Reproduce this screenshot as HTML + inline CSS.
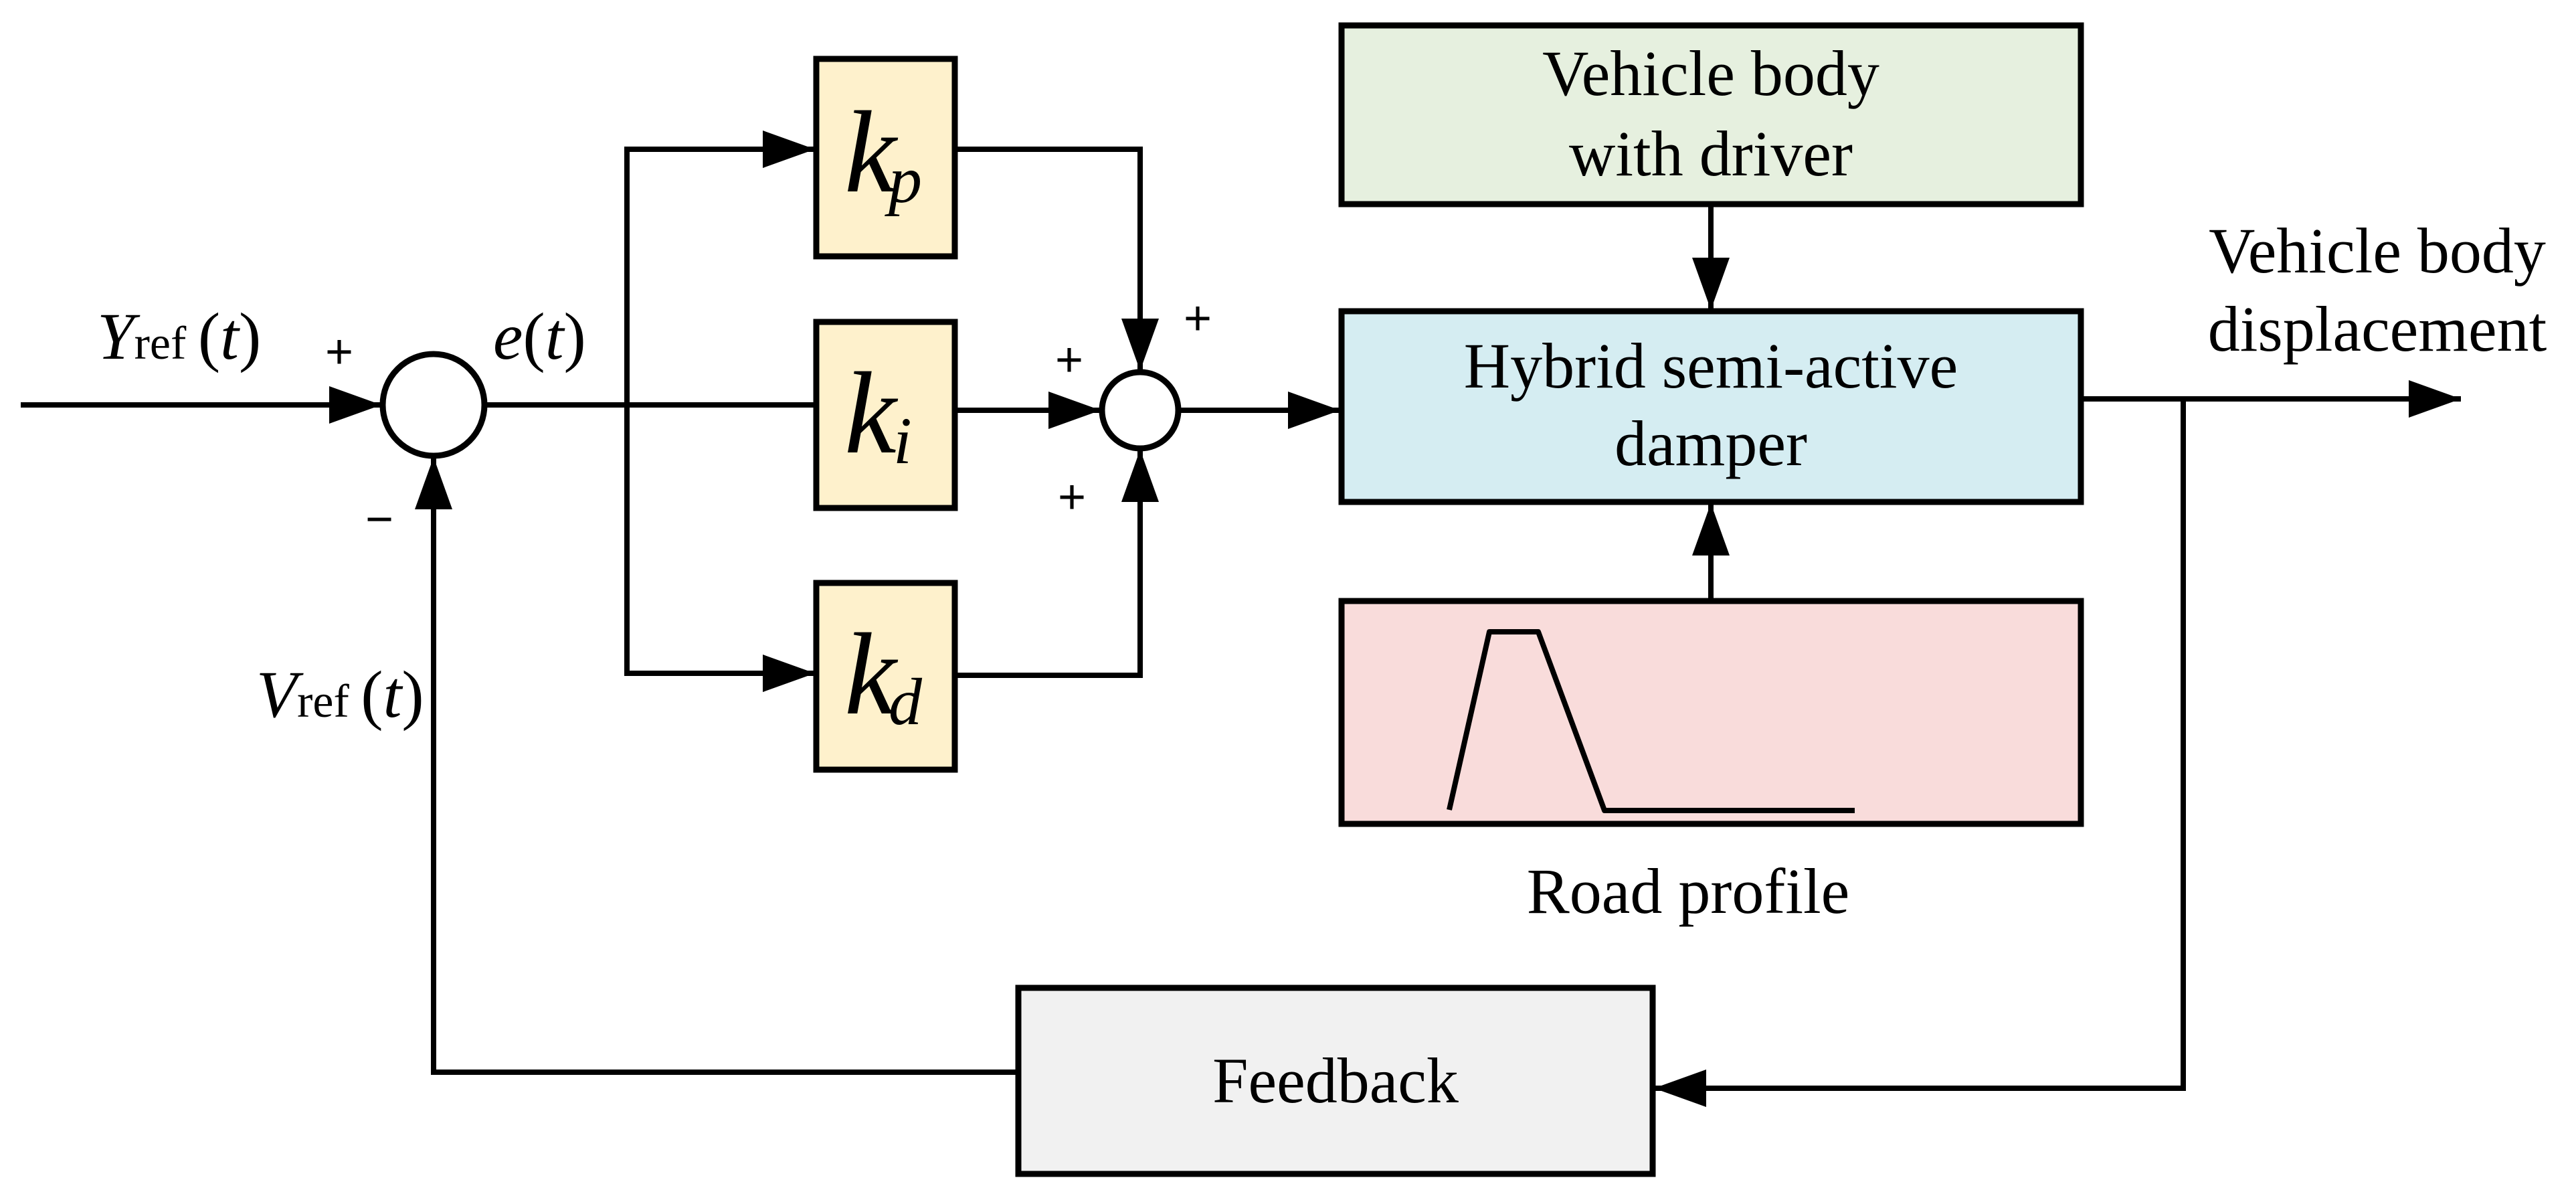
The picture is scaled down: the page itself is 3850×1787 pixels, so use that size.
<!DOCTYPE html>
<html><head><meta charset="utf-8"><style>html,body{margin:0;padding:0;background:#fff}svg{display:block}svg text{font-family:"Liberation Serif","Times New Roman",serif}svg text.s{font-family:"Liberation Sans",sans-serif}</style></head>
<body>
<svg width="3850" height="1787" viewBox="0 0 3850 1787" xmlns="http://www.w3.org/2000/svg">
<defs>
<marker id="a" markerUnits="userSpaceOnUse" markerWidth="80" markerHeight="60" refX="78" refY="28" orient="auto"><path d="M0,0 L78,28 L0,56 Z" fill="#000"/></marker>
</defs>
<g stroke="#000" stroke-width="8" fill="none">
<rect x="1220" y="88" width="207" height="295" fill="#FEF1CC" stroke-width="9"/>
<rect x="1220" y="481" width="207" height="278" fill="#FEF1CC" stroke-width="9"/>
<rect x="1220" y="871" width="207" height="279" fill="#FEF1CC" stroke-width="9"/>
<rect x="2005" y="38" width="1105" height="267" fill="#E6F0DF" stroke-width="9"/>
<rect x="2005" y="465" width="1105" height="285" fill="#D5EDF2" stroke-width="9"/>
<rect x="2005" y="898" width="1105" height="333" fill="#F9DCDB" stroke-width="9"/>
<rect x="1522" y="1476" width="948" height="278" fill="#F1F1F1" stroke-width="9"/>
<circle cx="648" cy="605" r="76" fill="#fff" stroke-width="9"/>
<circle cx="1704" cy="613" r="57" fill="#fff" stroke-width="9"/>
<line x1="31" y1="605" x2="570" y2="605" marker-end="url(#a)"/>
<line x1="724" y1="605" x2="1220" y2="605"/>
<polyline points="1218,223 937,223 937,1006 1218,1006" />
<line x1="937" y1="223" x2="1218" y2="223" marker-end="url(#a)"/>
<line x1="937" y1="1006" x2="1218" y2="1006" marker-end="url(#a)"/>
<polyline points="1427,223 1704,223 1704,554" marker-end="url(#a)"/>
<line x1="1427" y1="613" x2="1645" y2="613" marker-end="url(#a)"/>
<polyline points="1427,1009 1704,1009 1704,672" marker-end="url(#a)"/>
<line x1="1761" y1="613" x2="2003" y2="613" marker-end="url(#a)"/>
<line x1="2557" y1="305" x2="2557" y2="463" marker-end="url(#a)"/>
<line x1="2557" y1="898" x2="2557" y2="752" marker-end="url(#a)"/>
<line x1="3110" y1="596" x2="3678" y2="596" marker-end="url(#a)"/>
<polyline points="3263,596 3263,1626 2472,1626" marker-end="url(#a)"/>
<polyline points="1522,1602 648,1602 648,683" marker-end="url(#a)"/>
<polyline points="2166,1210 2226,944 2299,944 2398,1211 2772,1211" stroke-linejoin="round"/>
</g>
<g fill="#000">
<text x="1262" y="286" font-size="175" font-style="italic">k</text><text x="1328" y="302" font-size="100" font-style="italic">p</text>
<text x="1262" y="676" font-size="175" font-style="italic">k</text><text x="1335" y="692" font-size="100" font-style="italic">i</text>
<text x="1262" y="1066" font-size="175" font-style="italic">k</text><text x="1328" y="1082" font-size="100" font-style="italic">d</text>
<text x="145" y="536" font-size="100"><tspan font-style="italic">Y</tspan><tspan font-size="70">ref </tspan>(<tspan font-style="italic">t</tspan>)</text>
<text x="383" y="1071" font-size="100"><tspan font-style="italic">V</tspan><tspan font-size="70">ref </tspan>(<tspan font-style="italic">t</tspan>)</text>
<text x="737" y="536" font-size="100"><tspan font-style="italic">e</tspan>(<tspan font-style="italic">t</tspan>)</text>
<g font-size="72" text-anchor="middle">
<text class="s" x="507" y="550">+</text>
<text class="s" x="1790" y="500">+</text>
<text class="s" x="1598" y="562">+</text>
<text class="s" x="1602" y="767">+</text>
<text class="s" x="567" y="800">−</text>
</g>
<g font-size="96" text-anchor="middle">
<text x="2557" y="142">Vehicle body</text>
<text x="2557" y="262">with driver</text>
<text x="2557" y="579">Hybrid semi-active</text>
<text x="2557" y="695">damper</text>
<text x="2523" y="1364">Road profile</text>
<text x="1996" y="1647">Feedback</text>
<text x="3553" y="407">Vehicle body</text>
<text x="3553" y="524">displacement</text>
</g>
</g>
</svg>
</body></html>
